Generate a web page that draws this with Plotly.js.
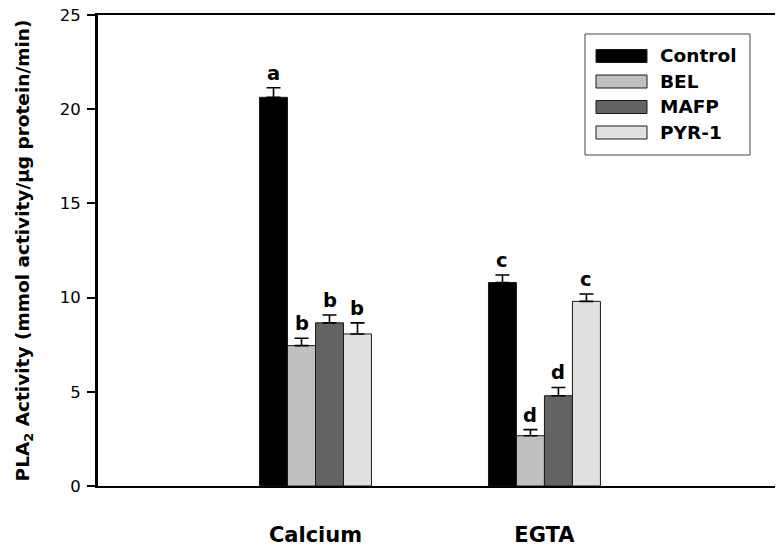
<!DOCTYPE html>
<html>
<head>
<meta charset="utf-8">
<script src="https://cdn.plot.ly/plotly-3.0.1.min.js"></script>
<style>html,body{margin:0;padding:0;background:#fff;}</style>
</head>
<body>
<div id="chart" style="width:779px;height:550px;"></div>
<script>
// ---- data ----
const groups = ['Calcium', 'EGTA'];
const seriesNames = ['Control', 'BEL', 'MAFP', 'PYR-1'];
const controlVals = [20.63, 10.80];
const controlErr = [0.51, 0.40];
const belVals = [7.45, 2.67];
const belErr = [0.39, 0.32];
const mafpVals = [8.66, 4.79];
const mafpErr = [0.42, 0.44];
const pyrVals = [8.07, 9.80];
const pyrErr = [0.59, 0.39];
const controlLetters = ['a', 'c'];
const belLetters = ['b', 'd'];
const mafpLetters = ['b', 'd'];
const pyrLetters = ['b', 'c'];
const yTicks = [0, 5, 10, 15, 20, 25];

// ---- styling ----
const colors = ['#000000', '#c0c0c0', '#636363', '#e0e0e0'];
const FONT = 'DejaVu Sans, Liberation Sans, Arial, sans-serif';
const W = 779, H = 550;
const M = {l: 98, r: 4, t: 15, b: 64};
const BARGAP = 0.511;

const values = [controlVals, belVals, mafpVals, pyrVals];
const errs = [controlErr, belErr, mafpErr, pyrErr];
const letters = [controlLetters, belLetters, mafpLetters, pyrLetters];
const xPos = groups.map((g, i) => i);

const traces = seriesNames.map((name, s) => ({
  type: 'bar',
  name: name,
  x: xPos,
  y: values[s],
  marker: {color: colors[s], line: {color: '#1a1a1a', width: 1}},
  error_y: {type: 'data', symmetric: false, array: errs[s],
            arrayminus: errs[s].map(() => 0),
            color: '#000', thickness: 1.6, width: 7},
  showlegend: false,
  hoverinfo: 'skip'
}));

// letter annotations above each bar
const barW = (1 - BARGAP) / seriesNames.length;
const annotations = [];
seriesNames.forEach((name, s) => {
  xPos.forEach((x, g) => {
    annotations.push({
      x: x + (s - (seriesNames.length - 1) / 2) * barW,
      y: values[s][g] + errs[s][g],
      xref: 'x', yref: 'y',
      text: '<b>' + letters[s][g] + '</b>',
      showarrow: false, yanchor: 'bottom', yshift: 1,
      font: {family: FONT, size: 19.5, color: '#000'}
    });
  });
});

// custom legend (box with wide swatches)
const plotW = W - M.l - M.r, plotH = H - M.t - M.b;
const px = v => (v - M.l) / plotW;
const py = v => (H - M.b - v) / plotH;
const shapes = [{
  type: 'rect', xref: 'paper', yref: 'paper',
  x0: px(585), x1: px(750), y0: py(155), y1: py(34),
  line: {color: '#444', width: 1}, fillcolor: '#fff', layer: 'above'
}];
seriesNames.forEach((name, s) => {
  const cy = 56 + s * 25.5;
  shapes.push({
    type: 'rect', xref: 'paper', yref: 'paper',
    x0: px(596), x1: px(647), y0: py(cy + 6.5), y1: py(cy - 6.5),
    line: {color: '#1a1a1a', width: 1}, fillcolor: colors[s], layer: 'above'
  });
  annotations.push({
    xref: 'paper', yref: 'paper', x: px(658), y: py(cy),
    xanchor: 'left', yanchor: 'middle', showarrow: false,
    text: '<b>' + name + '</b>',
    font: {family: FONT, size: 18.5, color: '#000'}
  });
});

const layout = {
  width: W, height: H,
  margin: M,
  paper_bgcolor: '#fff', plot_bgcolor: '#fff',
  barmode: 'group', bargap: BARGAP, bargroupgap: 0,
  showlegend: false,
  font: {family: FONT, color: '#000'},
  xaxis: {
    range: [-0.950, 2.007],
    tickvals: xPos, ticktext: groups.map(g => '<b>' + g + '</b>'),
    ticks: '', showgrid: false, zeroline: false,
    showline: true, linecolor: '#000', linewidth: 1.7, mirror: true,
    tickfont: {family: FONT, size: 21, color: '#000'},
    ticklabelstandoff: 29
  },
  yaxis: {
    range: [0, 25], tickvals: yTicks,
    ticks: 'outside', ticklen: 8, tickwidth: 2, tickcolor: '#000',
    showgrid: false, zeroline: false,
    showline: true, linecolor: '#000', linewidth: 3,
    tickfont: {family: FONT, size: 16.5, color: '#000'},
    ticklabelstandoff: 3,
    title: {text: '<b>PLA<sub>2</sub> Activity (mmol activity/µg protein/min)</b>',
            font: {family: FONT, size: 18.5, color: '#000'}, standoff: 26}
  },
  shapes: shapes,
  annotations: annotations
};

Plotly.newPlot('chart', traces, layout, {staticPlot: true, displayModeBar: false});
</script>
</body>
</html>
